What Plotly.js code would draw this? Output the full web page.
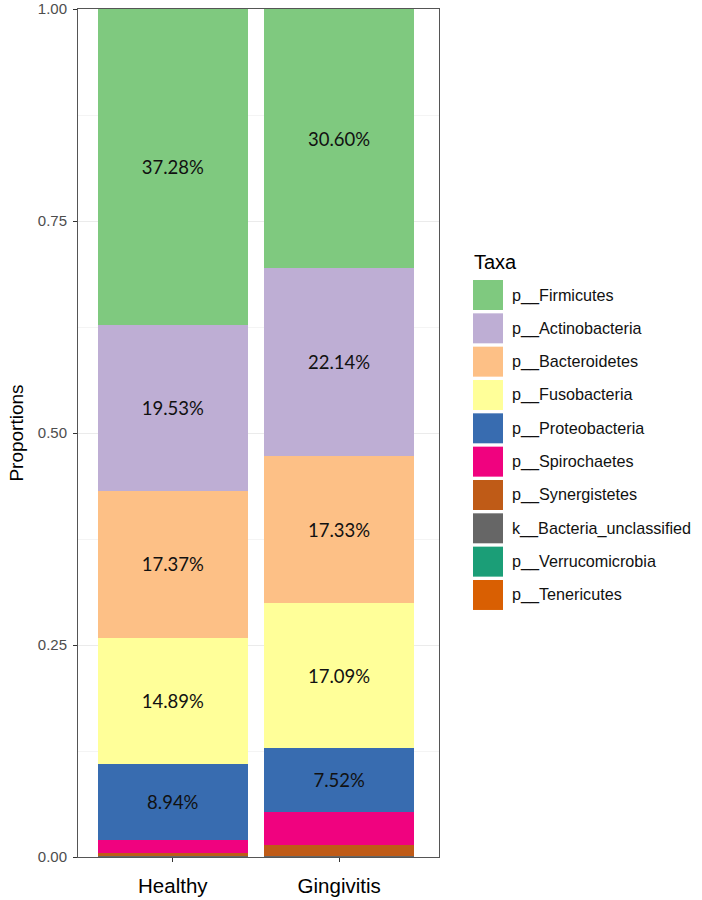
<!DOCTYPE html>
<html>
<head>
<meta charset="utf-8">
<script src="https://cdn.plot.ly/plotly-3.0.1.min.js"></script>
<style>html,body{margin:0;padding:0;background:#fff;}#chart{width:702px;height:900px;}</style>
</head>
<body>
<div id="chart"></div>
<script>
// ---- data ----
const samples = ['Healthy', 'Gingivitis'];
const taxa = ['p__Firmicutes', 'p__Actinobacteria', 'p__Bacteroidetes', 'p__Fusobacteria',
  'p__Proteobacteria', 'p__Spirochaetes', 'p__Synergistetes', 'k__Bacteria_unclassified',
  'p__Verrucomicrobia', 'p__Tenericutes'];
const firmicutes      = [0.3728, 0.3060];
const actinobacteria  = [0.1953, 0.2214];
const bacteroidetes   = [0.1737, 0.1733];
const fusobacteria    = [0.1489, 0.1709];
const proteobacteria  = [0.0894, 0.0752];
const spirochaetes    = [0.0151, 0.0390];
const synergistetes   = [0.0040, 0.0136];
const unclassified    = [0.0004, 0.0003];
const verrucomicrobia = [0.0002, 0.0002];
const tenericutes     = [0.0002, 0.0001];
const colors = ['#7FC97F', '#BEAED4', '#FDC086', '#FFFF99', '#386CB0', '#F0027F',
  '#BF5B17', '#666666', '#1B9E77', '#D95F02'];
const labelThreshold = 0.05;

const seriesValues = [firmicutes, actinobacteria, bacteroidetes, fusobacteria, proteobacteria,
  spirochaetes, synergistetes, unclassified, verrucomicrobia, tenericutes];

// ---- traces (bottom of stack first) ----
const traces = [];
for (let i = taxa.length - 1; i >= 0; i--) {
  const vals = seriesValues[i];
  traces.push({
    type: 'bar',
    name: taxa[i],
    x: samples,
    y: vals,
    marker: {color: colors[i], line: {width: 0}},
    text: vals.map(v => v > labelThreshold ? (v * 100).toFixed(2) + '%' : ''),
    textposition: 'inside',
    insidetextanchor: 'middle',
    textangle: 0,
    constraintext: 'none',
    textfont: {family: 'Lato, "Open Sans", sans-serif', size: 18.5, color: '#111111'},
    showlegend: false,
    hoverinfo: 'name+y'
  });
}

// ---- custom legend (large ggplot-style keys) ----
const W = 702, H = 900, mL = 78, mR = 263, mT = 9, mB = 43;
const pw = W - mL - mR, ph = H - mT - mB;
const px2x = p => (p - mL) / pw;
const py2y = p => (H - mB - p) / ph;
const keyLeft = 473, keySize = 30, keyTop0 = 280, keyPitch = 33.33, labelLeft = 510;

const shapes = [];
const annotations = [{
  xref: 'paper', yref: 'paper', x: px2x(keyLeft - 1), y: py2y(262),
  xanchor: 'left', yanchor: 'middle', showarrow: false, text: 'Taxa',
  font: {family: '"Liberation Sans", Arial, sans-serif', size: 20, color: '#000'}
}];
taxa.forEach((t, i) => {
  const top = keyTop0 + i * keyPitch;
  shapes.push({
    type: 'rect', xref: 'paper', yref: 'paper',
    x0: px2x(keyLeft), x1: px2x(keyLeft + keySize),
    y0: py2y(top + keySize), y1: py2y(top),
    fillcolor: colors[i], line: {width: 0}, layer: 'above'
  });
  annotations.push({
    xref: 'paper', yref: 'paper', x: px2x(labelLeft), y: py2y(top + keySize / 2),
    xanchor: 'left', yanchor: 'middle', showarrow: false, text: t,
    font: {family: '"Liberation Sans", Arial, sans-serif', size: 16.2, color: '#111'}
  });
});

const layout = {
  width: W, height: H,
  margin: {l: mL, r: mR, t: mT, b: mB, pad: 0},
  paper_bgcolor: '#ffffff', plot_bgcolor: '#ffffff',
  barmode: 'stack', bargap: 0.1,
  showlegend: false,
  font: {family: '"Liberation Sans", Arial, sans-serif'},
  xaxis: {
    type: 'category', range: [-0.57, 1.6],
    showline: true, mirror: true, linecolor: '#555', linewidth: 1,
    ticks: 'outside', ticklen: 4, tickcolor: '#333', tickwidth: 1,
    tickfont: {size: 20.5, color: '#000'}, ticklabelstandoff: 6,
    showgrid: false, zeroline: false
  },
  yaxis: {
    range: [0, 1], dtick: 0.25, tick0: 0, tickformat: '.2f',
    showline: true, mirror: true, linecolor: '#555', linewidth: 1,
    ticks: 'outside', ticklen: 4, tickcolor: '#333', tickwidth: 1,
    tickfont: {size: 15, color: '#4D4D4D'}, ticklabelstandoff: 3,
    showgrid: true, gridcolor: '#EBEBEB', gridwidth: 1,
    minor: {dtick: 0.125, showgrid: true, gridcolor: '#F4F4F4', gridwidth: 1, ticks: ''},
    zeroline: false,
    title: {text: 'Proportions', font: {size: 19, color: '#000'}, standoff: 9}
  },
  shapes: shapes,
  annotations: annotations
};

Plotly.newPlot('chart', traces, layout, {staticPlot: true, displayModeBar: false});
</script>
</body>
</html>
